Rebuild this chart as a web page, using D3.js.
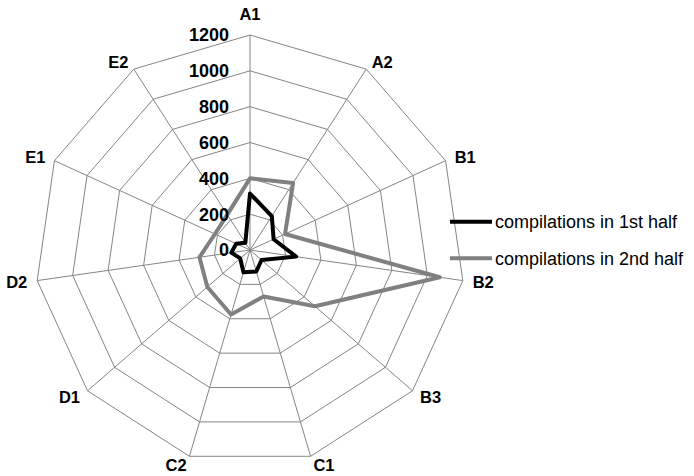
<!DOCTYPE html>
<html>
<head>
<meta charset="utf-8">
<script src="https://cdn.jsdelivr.net/npm/d3@7"></script>
<style>
  html, body { margin: 0; padding: 0; background: #fff; }
  svg { display: block; }
  text { font-family: "Liberation Sans", Arial, sans-serif; fill: #000; }
</style>
</head>
<body>
<svg id="chart" width="694" height="476"></svg>
<script>
const categories = ["A1", "A2", "B1", "B2", "B3", "C1", "C2", "D1", "D2", "E1", "E2"];
const firstHalf  = [315, 225, 145, 260, 85, 125, 130, 72, 105, 85, 48];
const secondHalf = [400, 445, 215, 1070, 480, 270, 375, 315, 285, 215, 235];
const tickValues = [0, 200, 400, 600, 800, 1000, 1200];
const seriesNames = ["compilations in 1st half", "compilations in 2nd half"];
const seriesColors = ["#000000", "#808080"];

const svg = d3.select("#chart");
const cx = 250, cy = 250, R = 215;
const n = categories.length;
const r = d3.scaleLinear().domain([0, 1200]).range([0, R]);
const ang = d3.scaleLinear().domain([0, n]).range([0, 2 * Math.PI]);
const g = svg.append("g").attr("transform", `translate(${cx},${cy})`);

const px = (i, v) => r(v) * Math.sin(ang(i));
const py = (i, v) => -r(v) * Math.cos(ang(i));

// grid rings
tickValues.filter(t => t > 0).forEach(t => {
  g.append("path")
    .attr("d", d3.lineRadial().angle((d, i) => ang(i)).radius(() => r(t)).curve(d3.curveLinearClosed)(categories))
    .attr("fill", "none").attr("stroke", "#858585").attr("stroke-width", 1);
});
// spokes
categories.forEach((c, i) => {
  g.append("line")
    .attr("x1", 0).attr("y1", 0)
    .attr("x2", px(i, 1200)).attr("y2", py(i, 1200))
    .attr("stroke", "#858585").attr("stroke-width", 1);
});

// series
const series = [firstHalf, secondHalf];
[1, 0].forEach(k => {
  g.append("path")
    .attr("d", d3.lineRadial().angle((d, i) => ang(i)).radius(d => r(d)).curve(d3.curveLinearClosed)(series[k]))
    .attr("fill", "none").attr("stroke", seriesColors[k]).attr("stroke-width", 4)
    .attr("stroke-linejoin", "round");
});

// tick labels
tickValues.forEach(t => {
  g.append("text")
    .attr("x", -21).attr("y", -r(t))
    .attr("dy", "0.36em")
    .attr("text-anchor", "end")
    .attr("font-weight", "bold").attr("font-size", 18)
    .text(t);
});

// category labels
categories.forEach((c, i) => {
  const s = Math.sin(ang(i)), co = Math.cos(ang(i));
  const vx = px(i, 1200), vy = py(i, 1200);
  let anchor = "middle", x = vx, y;
  if (Math.abs(s) < 0.1) {
    y = vy - 21 * co;
  } else {
    anchor = s > 0 ? "start" : "end";
    x = vx + 10 * s;
    y = vy - 9 * co;
  }
  g.append("text")
    .attr("x", x).attr("y", y).attr("dy", "0.36em")
    .attr("text-anchor", anchor)
    .attr("font-weight", "bold").attr("font-size", 16.5)
    .text(c);
});

// legend
const leg = svg.append("g");
seriesNames.forEach((name, k) => {
  const y = 221.7 + k * 36.6;
  leg.append("line").attr("x1", 450).attr("x2", 492).attr("y1", y).attr("y2", y)
    .attr("stroke", seriesColors[k]).attr("stroke-width", 4);
  leg.append("text").attr("x", 495).attr("y", y).attr("dy", "0.36em")
    .attr("font-size", 18).text(name);
});
</script>
</body>
</html>
